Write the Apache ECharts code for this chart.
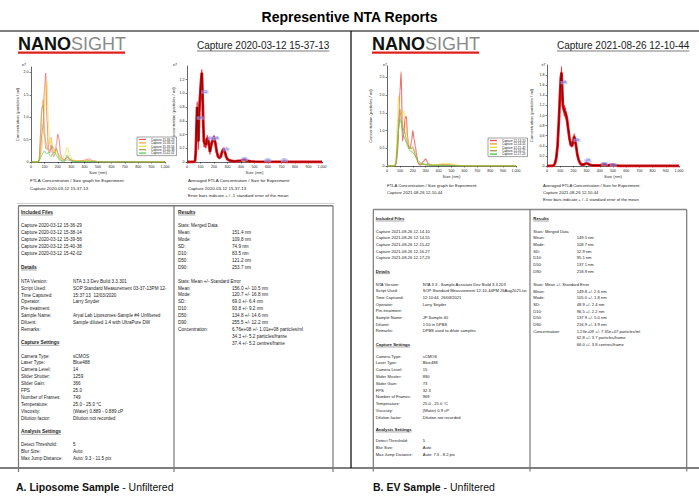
<!DOCTYPE html>
<html><head><meta charset="utf-8">
<script src="https://cdn.jsdelivr.net/npm/echarts@6/dist/echarts.min.js"></script>
<style>html,body{margin:0;padding:0;background:#fff}#c{width:699px;height:502px}</style>
</head><body><div id="c"></div><script>
// ---------------- DATA ----------------
// A: Liposome sample, individual captures (x = size nm, y = concentration e7 particles/ml)
const sizeA = [0,50,60,70,80,90,100,110,120,130,140,150,160,170,180,190,200,210,220,230,250,270,290,310,350,400,430,460,500,600,700,800,1000];
const capA1 = [0,0,0.02,0.15,0.6,0.85,1.6,1.98,0.9,0.25,0.2,0.38,0.2,0.12,0.18,0.4,0.62,0.5,0.18,0.08,0.05,0.1,0.06,0.03,0.02,0.04,0.07,0.03,0.01,0,0.01,0,0];
const capA2 = [0,0,0.05,0.4,1.1,1.4,0.8,0.45,0.3,0.35,0.5,0.55,0.3,0.2,0.25,0.3,0.2,0.15,0.1,0.06,0.05,0.12,0.08,0.03,0.02,0.02,0.03,0.02,0.01,0,0.005,0,0];
const capA3 = [0,0,0,0.1,0.3,0.6,1.2,1.7,1.79,0.9,0.4,0.5,0.35,0.2,0.25,0.2,0.15,0.1,0.08,0.06,0.15,0.33,0.15,0.05,0.02,0.02,0.03,0.02,0.01,0,0.005,0,0];
const capA4 = [0,0,0.05,0.6,1.2,1.26,0.6,0.3,0.28,0.3,0.25,0.28,0.35,0.3,0.25,0.3,0.2,0.1,0.05,0.03,0.02,0.05,0.03,0.01,0.01,0.01,0.02,0.01,0,0,0,0,0];
const capA5 = [0,0,0.02,0.08,0.15,0.2,0.25,0.2,0.18,0.22,0.15,0.12,0.18,0.22,0.2,0.15,0.1,0.05,0.03,0.02,0.02,0.16,0.05,0.02,0.01,0.01,0.01,0.01,0,0,0,0,0];
const namesA = ['Capture 15-36-29','Capture 15-38-14','Capture 15-39-56','Capture 15-40-38','Capture 15-42-02'];
// A: averaged
const sizeAvgA = [0,50,60,65,70,75,80,85,90,95,100,105,110,115,120,125,130,140,150,160,170,180,190,200,210,220,230,240,250,260,270,280,290,300,320,350,400,420,440,470,500,600,700,800,1000];
const meanA = [0,0,0.02,0.15,0.5,0.8,0.55,0.3,0.7,0.9,1.05,1.2,1.3,1.0,0.6,0.3,0.28,0.25,0.35,0.3,0.15,0.25,0.32,0.35,0.28,0.15,0.08,0.06,0.08,0.15,0.19,0.15,0.08,0.04,0.02,0.01,0.02,0.03,0.02,0.01,0.005,0.003,0.003,0,0];
const errA = [0,0,0.01,0.06,0.18,0.08,0.2,0.12,0.15,0.15,0.12,0.1,0.05,0.12,0.1,0.08,0.06,0.05,0.04,0.05,0.04,0.04,0.03,0.04,0.04,0.03,0.02,0.02,0.02,0.02,0.02,0.02,0.02,0.01,0.01,0.005,0.005,0.01,0.01,0.005,0.003,0.002,0.002,0,0];
const peakLabelsA = [[98,0.64,'98'],[133,1.02,'112'],[178,0.34,'154'],[215,0.34,'198'],[289,0.18,'270'],[425,0.04,'424'],[598,0.02,'595'],[721,0.02,'721']];
// B: EV sample, individual captures
const sizeB = [0,50,60,70,80,90,100,110,120,130,140,150,160,170,180,190,200,210,220,230,240,250,260,280,300,320,350,400,450,500,550,600,700,800,1000];
const capB1 = [0,0,0,0.05,0.3,1.0,2.1,2.66,0.7,0.9,1.35,1.4,0.8,0.5,0.5,0.7,1.0,0.75,0.55,0.3,0.1,0.04,0.03,0.12,0.2,0.06,0.02,0.02,0.03,0.02,0.01,0,0,0,0];
const capB2 = [0,0,0,0.1,0.5,1.1,1.45,1.5,1.2,1.0,0.95,0.8,0.65,0.55,0.5,0.5,0.5,0.4,0.3,0.2,0.12,0.08,0.06,0.05,0.04,0.03,0.02,0.03,0.04,0.03,0.01,0,0,0,0];
const capB3 = [0,0,0.02,0.3,1.2,1.96,1.6,1.4,1.45,1.55,1.3,1.0,0.8,0.6,0.5,0.45,0.4,0.35,0.3,0.2,0.12,0.08,0.06,0.05,0.05,0.04,0.03,0.05,0.08,0.06,0.02,0.01,0,0,0];
const capB4 = [0,0,0,0.1,0.6,1.3,1.6,1.3,1.0,1.05,0.9,0.7,0.6,0.55,0.5,0.5,0.55,0.45,0.3,0.2,0.1,0.06,0.04,0.04,0.03,0.02,0.01,0.02,0.02,0.01,0,0,0,0,0];
const capB5 = [0,0,0,0.08,0.5,1.05,1.32,1.2,1.0,0.85,0.75,0.65,0.55,0.47,0.42,0.4,0.38,0.33,0.28,0.22,0.16,0.12,0.09,0.06,0.04,0.03,0.02,0.02,0.01,0.01,0,0,0,0,0];
const namesB = ['Capture 12-14-10','Capture 12-14-55','Capture 12-15-42','Capture 12-16-27','Capture 12-17-23'];
// B: averaged
const sizeAvgB = [0,40,50,60,70,80,90,100,105,110,115,120,130,140,150,160,170,180,190,200,205,210,220,230,240,250,260,280,300,320,350,400,420,440,460,480,500,520,550,600,700,800,1000];
const meanB = [0,0,0.01,0.05,0.15,0.4,0.9,1.5,1.75,1.85,1.55,1.2,1.1,1.05,0.95,0.75,0.55,0.42,0.4,0.5,0.58,0.55,0.4,0.22,0.12,0.06,0.03,0.03,0.06,0.03,0.01,0.01,0.03,0.03,0.01,0.02,0.02,0.01,0,0,0,0,0];
const errB = [0,0,0.005,0.01,0.02,0.03,0.05,0.08,0.1,0.12,0.1,0.08,0.1,0.1,0.08,0.06,0.04,0.03,0.03,0.05,0.06,0.05,0.03,0.02,0.015,0.01,0.01,0.01,0.015,0.01,0.005,0.005,0.01,0.01,0.005,0.005,0.005,0.003,0,0,0,0,0];
const peakLabelsB = [[128,1.65,'108'],[226,0.51,'206'],[309,0.1,'299'],[435,0.04,'430'],[502,0.02,'490']];
const capColors = ['#ee5555','#f0a040','#f0dc30','#a89a5a','#44cc44'];

// Report texts
const filesA = ['Capture 2020-03-12 15-36-29','Capture 2020-03-12 15-38-14','Capture 2020-03-12 15-39-56','Capture 2020-03-12 15-40-38','Capture 2020-03-12 15-42-02'];
const detailsA = [['NTA Version:','NTA 3.3 Dev Build 3.3.301'],['Script Used:','SOP Standard Measurement 03-37-13PM 12-'],['Time Captured:','15:37:13  12/03/2020'],['Operator:','Larry Snyder'],['Pre-treatment:',''],['Sample Name:','Aryal Lab Liposomes-Sample #4 Unfiltered'],['Diluent:','Sample diluted 1:4 with UltraPure DW'],['Remarks:','']];
const captureA = [['Camera Type:','sCMOS'],['Laser Type:','Blue488'],['Camera Level:','14'],['Slider Shutter:','1259'],['Slider Gain:','366'],['FPS','25.0'],['Number of Frames:','749'],['Temperature:','25.0 - 25.0 °C'],['Viscosity:','(Water) 0.889 - 0.889 cP'],['Dilution factor:','Dilution not recorded']];
const analysisA = [['Detect Threshold:','5'],['Blur Size:','Auto'],['Max Jump Distance:','Auto: 9.3 - 11.5 pix']];
const mergedA = [['Mean:','151.4 nm'],['Mode:','109.8 nm'],['SD:','74.9 nm'],['D10:','83.5 nm'],['D50:','121.2 nm'],['D90:','253.7 nm']];
const seA = [['Mean:','156.0 +/- 10.5 nm'],['Mode:','120.7 +/- 16.8 nm'],['SD:','69.0 +/- 6.4 nm'],['D10:','93.8 +/- 9.2 nm'],['D50:','134.8 +/- 14.6 nm'],['D90:','255.5 +/- 12.2 nm'],['Concentration:','6.76e+08 +/- 1.01e+08 particles/ml'],['','34.3 +/- 5.2 particles/frame'],['','37.4 +/- 5.2 centres/frame']];
const filesB = ['Capture 2021-08-26 12-14-10','Capture 2021-08-26 12-14-55','Capture 2021-08-26 12-15-42','Capture 2021-08-26 12-16-27','Capture 2021-08-26 12-17-23'];
const detailsB = [['NTA Version:','NTA 3.3 - Sample Assistant Dev Build 3.3.203'],['Script Used:','SOP Standard Measurement 12-10-44PM 26Aug2021.txt'],['Time Captured:','12:10:44  26/08/2021'],['Operator:','Larry Snyder'],['Pre-treatment:',''],['Sample Name:','JP Sample 40'],['Diluent:','1:50 in DPBS'],['Remarks:','DPBS used to dilute samples']];
const captureB = [['Camera Type:','sCMOS'],['Laser Type:','Blue488'],['Camera Level:','15'],['Slider Shutter:','890'],['Slider Gain:','73'],['FPS','32.3'],['Number of Frames:','969'],['Temperature:','25.0 - 25.0 °C'],['Viscosity:','(Water) 0.9 cP'],['Dilution factor:','Dilution not recorded']];
const analysisB = [['Detect Threshold:','5'],['Blur Size:','Auto'],['Max Jump Distance:','Auto: 7.3 - 8.2 pix']];
const mergedB = [['Mean:','149.5 nm'],['Mode:','108.7 nm'],['SD:','52.9 nm'],['D10:','95.1 nm'],['D50:','137.1 nm'],['D90:','218.9 nm']];
const seB = [['Mean:','149.8 +/- 2.6 nm'],['Mode:','105.0 +/- 1.8 nm'],['SD:','48.9 +/- 2.4 nm'],['D10:','96.5 +/- 2.2 nm'],['D50:','137.9 +/- 5.0 nm'],['D90:','216.9 +/- 3.9 nm'],['Concentration:','1.23e+09 +/- 7.35e+07 particles/ml'],['','62.8 +/- 3.7 particles/frame'],['','66.0 +/- 3.8 centres/frame']];

// ---------------- LAYOUT / DRAWING ----------------
const FF = '"Liberation Sans", Arial, sans-serif';
const g = [];
const mctx = document.createElement('canvas').getContext('2d');
function tw(text, size, bold){ mctx.font = (bold?'bold ':'') + size + 'px ' + FF; return mctx.measureText(text).width; }
function T(x, y, text, size, opt){ g.push({type:'text', x:x, y:y, silent:true, z:10, style:Object.assign({text:text, fontSize:size, fontFamily:FF, fill:'#222', verticalAlign:'middle', align:'left'}, opt||{})}); }
function L(x1, y1, x2, y2, color, w){ g.push({type:'line', silent:true, z:5, shape:{x1:x1,y1:y1,x2:x2,y2:y2}, style:{stroke:color, lineWidth:w}}); }
function H(x, y, text, size){ T(x, y, text, size, {fontWeight:'bold'}); L(x, y+size*0.62, x+tw(text,size,true), y+size*0.62, '#222', 0.4); }
function rows(x, vx, y0, dy, arr, size){ arr.forEach((r,i)=>{ if(r[0]) T(x, y0+i*dy, r[0], size); if(r[1]) T(vx, y0+i*dy, r[1], size); }); }

// title & frame
T(349.5, 17, 'Representive NTA Reports', 14, {fontWeight:'bold', align:'center', fill:'#000'});
L(0, 31, 699, 31, '#000', 1.2);
L(351, 31, 351, 468, '#000', 1.2);
L(0, 468, 699, 468, '#000', 1.2);

// logos and capture headers
function logo(x, y){
  g.push({type:'text', x:x, y:y, silent:true, style:{text:'{a|NANO}{b|SIGHT}', fontFamily:FF, fontSize:18, verticalAlign:'middle',
    rich:{a:{fontWeight:'bold', fill:'#111', fontSize:18, fontFamily:FF}, b:{fontWeight:'normal', fill:'#8a8a8a', fontSize:18, fontFamily:FF}}}});
  g.push({type:'rect', silent:true, shape:{x:x, y:y+8, width:107, height:2.3}, style:{fill:'#e0201c'}});
}
logo(18, 43.5); logo(372, 43.5);
function capHead(x, y, text){ T(x, y, text, 10, {fill:'#222'}); L(x, y+5.5, x+tw(text,10,false), y+5.5, '#222', 0.6); }
capHead(197, 45.5, 'Capture 2020-03-12 15-37-13');
capHead(557, 45.5, 'Capture 2021-08-26 12-10-44');

// chart captions
T(30, 180.7, 'FTLA Concentration / Size graph for Experiment:', 4.4);
T(30, 188, 'Capture 2020-03-12 15-37-13', 4.4);
T(188, 180.7, 'Averaged FTLA Concentration / Size for Experiment:', 4.4);
T(188, 188, 'Capture 2020-03-12 15-37-13', 4.4);
T(188, 195.3, 'Error bars indicate + / -1 standard error of the mean', 4.4);
T(387, 185.3, 'FTLA Concentration / Size graph for Experiment:', 4.2);
T(387, 192.3, 'Capture 2021-08-26 12-10-44', 4.2);
T(543, 185.3, 'Averaged FTLA Concentration / Size for Experiment:', 4.2);
T(543, 192.3, 'Capture 2021-08-26 12-10-44', 4.2);
T(543, 199.5, 'Error bars indicate + / -1 standard error of the mean', 4.2);
// exponent labels
T(22, 64.5, 'e7', 3.5); T(173, 64.5, 'e7', 3.5); T(383, 64.5, 'e7', 3.5); T(541.5, 64.5, 'e7', 3.5);

// table A
L(17, 203.5, 334, 203.5, '#cfcfcf', 1);
L(18.5, 205.8, 333, 205.8, '#777', 1.4);
[18.5, 174, 333].forEach(x=>L(x, 205.8, x, 472, '#777', 1.2));
const fA = 4.6;
H(21, 212, 'Included Files', 4.8);
filesA.forEach((t,i)=>T(21, 225.7+i*7, t, fA));
H(21, 267, 'Details', 4.8);
rows(21, 73, 281.3, 6.86, detailsA, fA);
H(21, 342.3, 'Capture Settings', 4.8);
rows(21, 73, 356, 6.9, captureA, fA);
H(21, 431.3, 'Analysis Settings', 4.8);
rows(21, 73, 444.7, 6.7, analysisA, fA);
H(178, 212, 'Results', 4.8);
T(178, 225.7, 'Stats: Merged Data', fA);
rows(178, 232, 232.7, 6.9, mergedA, fA);
T(178, 281, 'Stats: Mean +/- Standard Error', fA);
rows(178, 232, 288, 6.88, seA, fA);

// table B
L(373.3, 209.5, 686.7, 209.5, '#888', 1.5);
[373.3, 530, 686.7].forEach(x=>L(x, 209.5, x, 471.5, '#777', 1.2));
const fB = 4.1;
H(375.7, 218.3, 'Included Files', 4.3);
filesB.forEach((t,i)=>T(375.7, 231+i*6.67, t, fB));
H(375.7, 271, 'Details', 4.3);
rows(375.7, 422.7, 284.3, 6.67, detailsB, fB);
H(375.7, 344.3, 'Capture Settings', 4.3);
rows(375.7, 422.7, 356, 6.8, captureB, fB);
H(375.7, 429.3, 'Analysis Settings', 4.3);
rows(375.7, 422.7, 440.7, 6.67, analysisB, fB);
H(533.3, 218.3, 'Results', 4.3);
T(533.3, 231, 'Stats: Merged Data', fB);
rows(533.3, 576.7, 237.7, 6.67, mergedB, fB);
T(533.3, 284.3, 'Stats: Mean +/- Standard Error', fB);
rows(533.3, 576.7, 291, 6.67, seB, fB);

// bottom captions
g.push({type:'text', x:16, y:486.5, silent:true, style:{text:'{b|A. Liposome Sample}{r| - Unfiltered}', fontFamily:FF, fontSize:10.5, verticalAlign:'middle',
  rich:{b:{fontWeight:'bold', fill:'#111', fontSize:10.5, fontFamily:FF}, r:{fill:'#111', fontSize:10.5, fontFamily:FF}}}});
g.push({type:'text', x:373, y:486.5, silent:true, style:{text:'{b|B. EV Sample}{r| - Unfiltered}', fontFamily:FF, fontSize:10.5, verticalAlign:'middle',
  rich:{b:{fontWeight:'bold', fill:'#111', fontSize:10.5, fontFamily:FF}, r:{fill:'#111', fontSize:10.5, fontFamily:FF}}}});

// ---------------- CHARTS ----------------
const grids = [
  {left:31, top:67, width:134, height:95},
  {left:187, top:66, width:135, height:96},
  {left:387, top:66, width:129, height:100},
  {left:547, top:65, width:132, height:101}
];
const yCfg = [{max:2.12, interval:0.5, gap:9}, {max:1.4, interval:0.2, gap:10.5}, {max:2.82, interval:0.5, gap:15}, {max:2.0, interval:0.2, gap:14}];
const axisText = {fontSize:3.6, color:'#222', fontFamily:FF};
const xAxes = grids.map((gr,i)=>({gridIndex:i, type:'value', min:0, max:1000, interval:100,
  name:'Size (nm)', nameLocation:'middle', nameGap:8.5, nameTextStyle:{fontSize:4.2, color:'#333', fontFamily:FF},
  axisLine:{lineStyle:{color:'#000', width:0.6}}, axisTick:{length:1.5, lineStyle:{width:0.5, color:'#000'}},
  axisLabel:Object.assign({margin:2.5}, axisText), splitLine:{show:false}}));
const yAxes = grids.map((gr,i)=>({gridIndex:i, type:'value', min:0, max:yCfg[i].max, interval:yCfg[i].interval,
  name:'Concentration (particles / ml)', nameLocation:'middle', nameRotate:90, nameGap:yCfg[i].gap, nameTextStyle:{fontSize:4.2, color:'#333', fontFamily:FF},
  axisLine:{show:true, lineStyle:{color:'#000', width:0.6}}, axisTick:{show:true, length:1.5, lineStyle:{width:0.5, color:'#000'}},
  axisLabel:Object.assign({margin:2.5, showMaxLabel:false, formatter:v=>v===0?'0':v.toFixed(1)}, axisText), splitLine:{show:false}}));

function capSeries(idx, sizes, vals, name, color, width){
  return {type:'line', name:name, xAxisIndex:idx, yAxisIndex:idx, data:sizes.map((s,i)=>[s, vals[i]]), showSymbol:false,
    smooth:0.35, smoothMonotone:'x', lineStyle:{color:color, width:width, opacity:0.85}, itemStyle:{color:color}, emphasis:{disabled:true}, silent:true};
}
function avgSeries(idx, sizes, mean, err, labels){
  // error band as segments between consecutive points: [x0, lo0, hi0, x1, lo1, hi1]
  const seg = [];
  for (let i = 0; i < sizes.length-1; i++) {
    seg.push([sizes[i], Math.max(0, mean[i]-err[i]), mean[i]+err[i], sizes[i+1], Math.max(0, mean[i+1]-err[i+1]), mean[i+1]+err[i+1]]);
  }
  const m = sizes.map((s,i)=>[s, mean[i]]);
  const base = {type:'line', xAxisIndex:idx, yAxisIndex:idx, showSymbol:false, smooth:false, silent:true, emphasis:{disabled:true}};
  return [
    {type:'custom', xAxisIndex:idx, yAxisIndex:idx, silent:true, data:seg, encode:{x:[0,3], y:[1,2,4,5]}, clip:true,
      renderItem:function(params, api){
        const a = api.coord([api.value(0), api.value(1)]), b = api.coord([api.value(0), api.value(2)]);
        const c = api.coord([api.value(3), api.value(5)]), d = api.coord([api.value(3), api.value(4)]);
        return {type:'polygon', shape:{points:[a,b,c,d]}, style:{fill:'#e8141c', stroke:'#e8141c', lineWidth:0.3}};
      }},
    Object.assign({}, base, {data:m, lineStyle:{color:'#e8141c', width:2.8}}),
    Object.assign({}, base, {data:m, lineStyle:{color:'#7a0000', width:1.0}}),
    {type:'scatter', xAxisIndex:idx, yAxisIndex:idx, silent:true, z:5, symbol:'rect', symbolSize:[7,3.4],
      itemStyle:{color:'rgba(175,175,245,0.75)'},
      data:labels.map(l=>({value:[l[0], l[1]], name:l[2]})),
      label:{show:true, position:'inside', formatter:p=>p.name, fontSize:2.6, color:'#2020c8', fontFamily:FF}}
  ];
}

const series = [];
[capA1,capA2,capA3,capA4,capA5].forEach((v,k)=>series.push(capSeries(0, sizeA, v, namesA[k], capColors[k], 0.8)));
avgSeries(1, sizeAvgA, meanA, errA, peakLabelsA).forEach(s=>series.push(s));
[capB1,capB2,capB3,capB4,capB5].forEach((v,k)=>series.push(capSeries(2, sizeB, v, namesB[k], capColors[k], k===0?1.1:0.8)));
avgSeries(3, sizeAvgB, meanB, errB, peakLabelsB).forEach(s=>series.push(s));

function legendCfg(names, left, top, firstThick){
  return {data:names.map((n,k)=>({name:n, itemStyle:{color:capColors[k]}})), left:left, top:top, orient:'vertical', icon:'rect',
    itemWidth:7, itemHeight:firstThick?1.4:1.2, itemGap:0.4, padding:[1,2,1,2], borderColor:'#444', borderWidth:0.5, backgroundColor:'#fff',
    textStyle:{fontSize:3, color:'#222', fontFamily:FF, padding:0}, selectedMode:false, z:20};
}

const chart = echarts.init(document.getElementById('c'), null, {renderer:'svg', width:699, height:502});
chart.setOption({
  animation:false,
  backgroundColor:'#fff',
  grid:grids,
  xAxis:xAxes,
  yAxis:yAxes,
  legend:[legendCfg(namesA, 137, 137, false), legendCfg(namesB, 488, 138, true)],
  series:series,
  graphic:g
});
</script></body></html>
